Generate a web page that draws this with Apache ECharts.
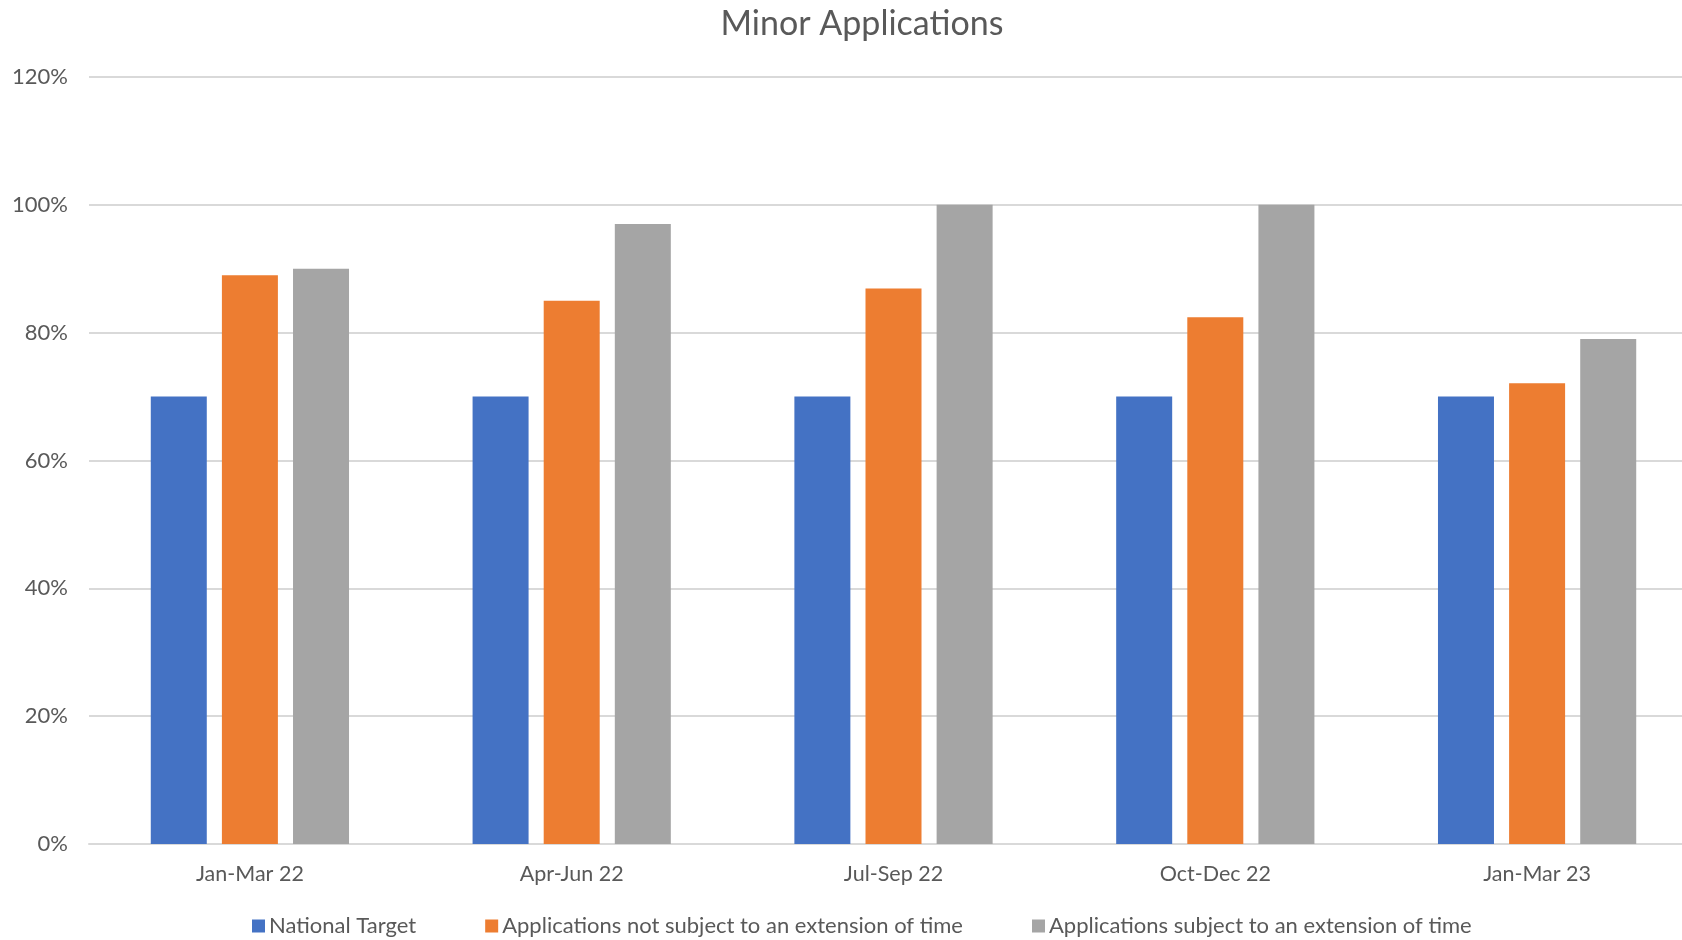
<!DOCTYPE html>
<html>
<head>
<meta charset="utf-8">
<script src="https://cdn.jsdelivr.net/npm/echarts@6/dist/echarts.min.js"></script>
<style>
  html, body { margin: 0; padding: 0; background: #fff; }
  #chart { width: 1682px; height: 940px; }
</style>
</head>
<body>
<div id="chart"></div>
<script>
// 数据
const categories = ['Jan-Mar 22', 'Apr-Jun 22', 'Jul-Sep 22', 'Oct-Dec 22', 'Jan-Mar 23'];
const nationalTarget = [70, 70, 70, 70, 70];
const notExtended = [89, 85, 86.9, 82.4, 72.1];
const extended = [90, 97, 100, 100, 79];
const seriesNames = [
  'National Target',
  'Applications not subject to an extension of time',
  'Applications subject to an extension of time'
];
const colors = ['#4472C4', '#ED7D31', '#A5A5A5'];

const font = 'Lato, "Open Sans", sans-serif';
const textColor = '#595959';

const chart = echarts.init(document.getElementById('chart'));

const barSeries = [nationalTarget, notExtended, extended].map((data, i) => ({
  name: seriesNames[i],
  type: 'bar',
  data: data,
  barWidth: 56,
  barGap: '27%',
  itemStyle: { color: colors[i] }
}));

const option = {
  animation: false,
  title: {
    text: 'Minor Applications',
    left: 857,
    top: 2,
    textAlign: 'center',
    textStyle: { fontFamily: font, fontSize: 34, fontWeight: 'normal', color: textColor }
  },
  legend: {
    data: seriesNames,
    left: 247,
    top: 910,
    itemWidth: 13,
    itemHeight: 13,
    itemGap: 69,
    icon: 'rect',
    textStyle: { fontFamily: font, fontSize: 22, color: textColor, padding: [0, 0, 0, -1] }
  },
  // 图表右侧被裁掉一部分，用固定宽度，不限制在容器内
  grid: { left: 89, width: 1609, top: 77, bottom: 96, containLabel: false, outerBoundsMode: 'none' },
  xAxis: {
    type: 'category',
    data: categories,
    axisLine: { lineStyle: { color: '#D9D9D9', width: 2 } },
    axisTick: { show: false },
    axisLabel: { fontFamily: font, fontSize: 21.5, color: textColor, margin: 19 }
  },
  yAxis: {
    type: 'value',
    min: 0,
    max: 120,
    interval: 20,
    axisLine: { show: false },
    axisTick: { show: false },
    axisLabel: { fontFamily: font, fontSize: 22, color: textColor, margin: 21, formatter: '{value}%' },
    splitLine: { lineStyle: { color: '#D9D9D9', width: 2 } }
  },
  series: barSeries
};

chart.setOption(option);
</script>
</body>
</html>
